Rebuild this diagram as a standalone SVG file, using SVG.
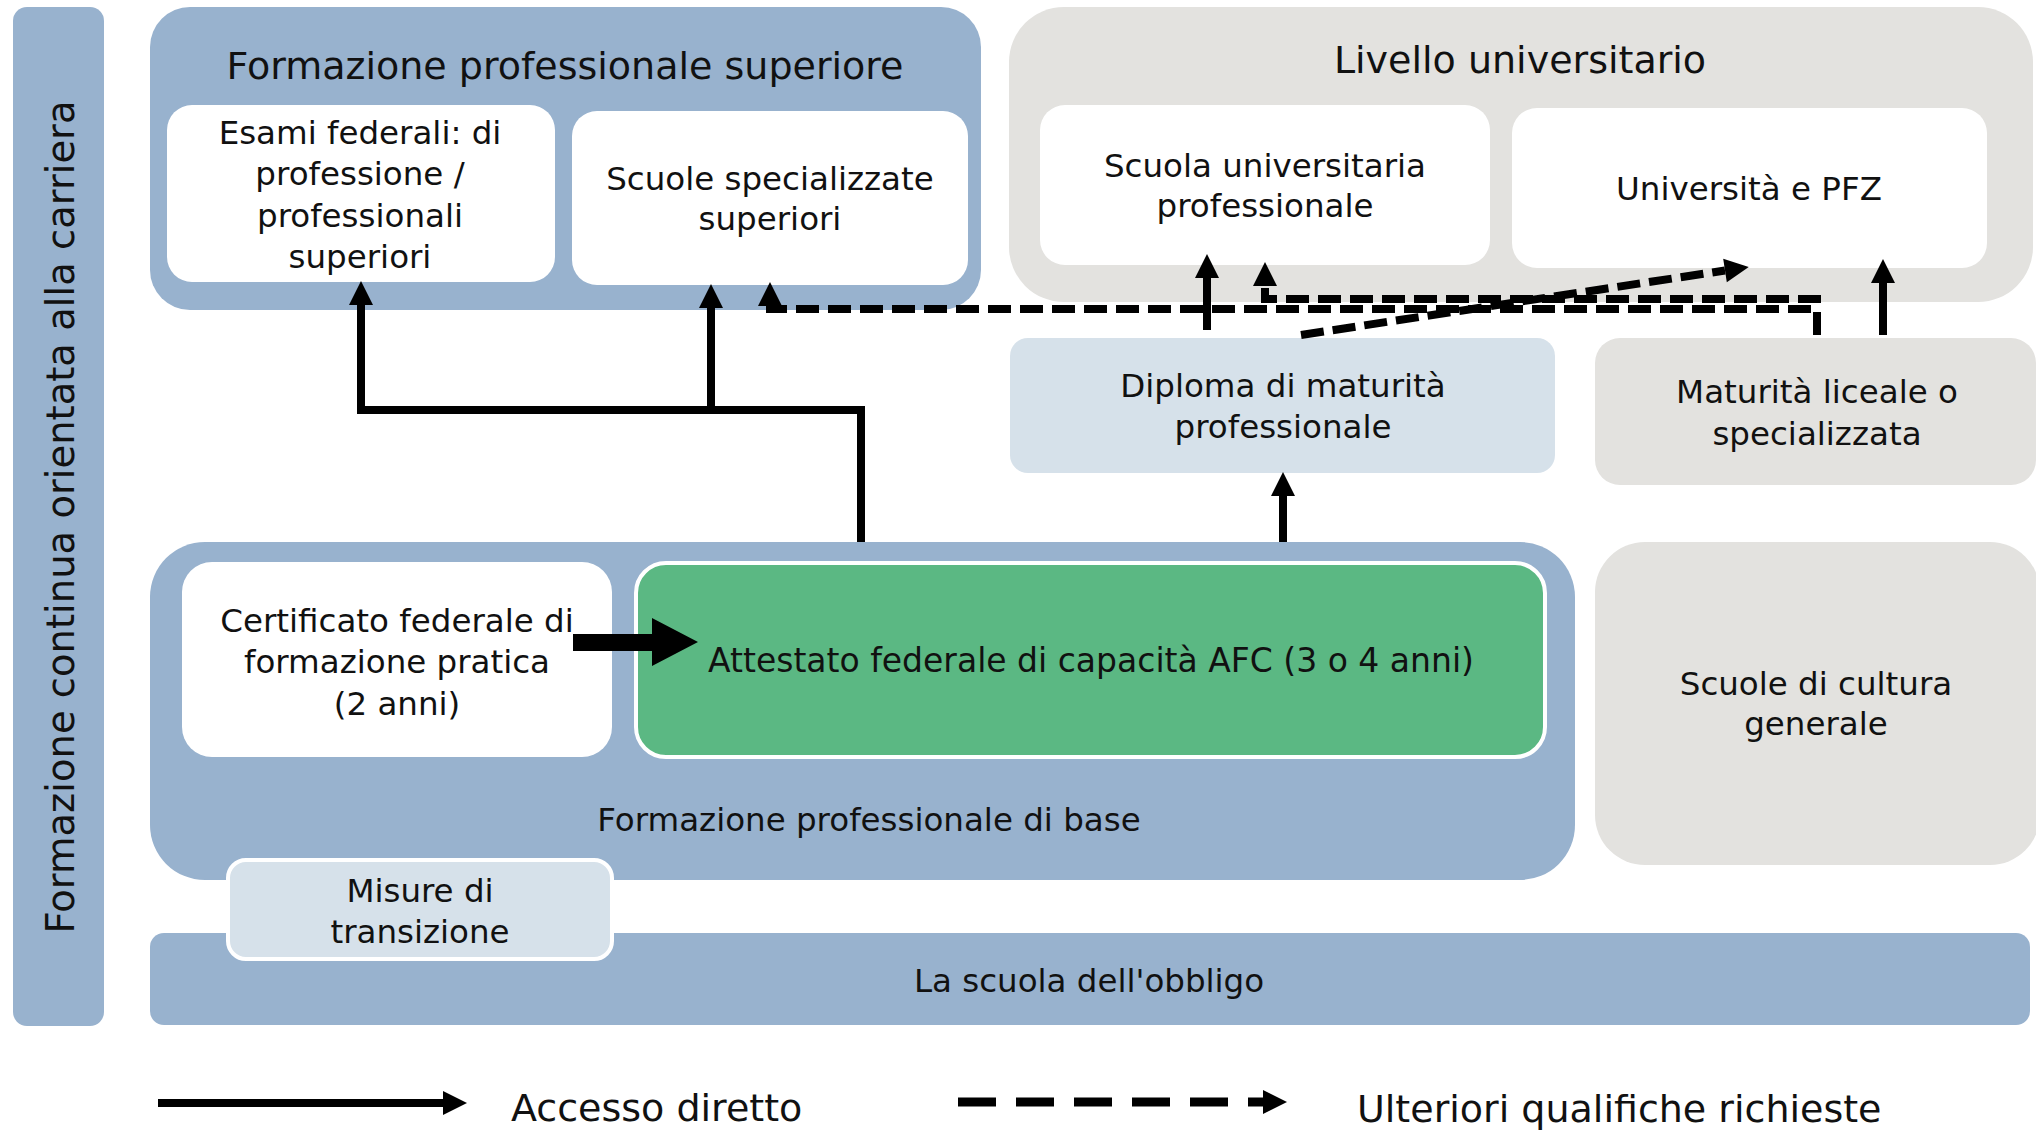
<svg xmlns="http://www.w3.org/2000/svg" width="2036" height="1131" viewBox="0 0 2036 1131">
<style>
  text { font-family: "DejaVu Sans", "Liberation Sans", sans-serif; fill: #111; }
  .h { font-size: 38px; text-anchor: middle; }
  .b { font-size: 32.5px; text-anchor: middle; }
  .lg { font-size: 38px; }
  .blue { fill: #98b2ce; }
  .grey { fill: #e3e2df; }
  .lblue { fill: #d6e1ea; }
  .white { fill: #ffffff; }
  .green { fill: #5bb883; stroke: #ffffff; stroke-width: 4; }
  .solid { fill: none; stroke: #000; stroke-width: 8; }
  .dash { fill: none; stroke: #000; stroke-width: 8; stroke-dasharray: 23 9; }
</style>
<defs>
  <marker id="ah" markerUnits="userSpaceOnUse" markerWidth="24" markerHeight="24" refX="0" refY="12" orient="auto" overflow="visible">
    <path d="M0,0 L24,12 L0,24 Z" fill="#000"/>
  </marker>
</defs>

<g id="carriera">
  <rect class="blue" x="13" y="7" width="91" height="1019" rx="14"/>
  <text class="h" style="font-size:38.5px" transform="translate(74,517) rotate(-90)">Formazione continua orientata alla carriera</text>
</g>

<g id="fps">
  <rect class="blue" x="150" y="7" width="831" height="303" rx="40"/>
  <text class="h" x="565" y="79">Formazione professionale superiore</text>
</g>
<g id="esami">
  <rect class="white" x="167" y="105" width="388" height="177" rx="25"/>
  <text class="b" x="360" y="144">Esami federali: di</text>
  <text class="b" x="360" y="185">professione /</text>
  <text class="b" x="360" y="227">professionali</text>
  <text class="b" x="360" y="268">superiori</text>
</g>
<g id="scuole-spec">
  <rect class="white" x="572" y="111" width="396" height="174" rx="25"/>
  <text class="b" x="770" y="190">Scuole specializzate</text>
  <text class="b" x="770" y="230">superiori</text>
</g>

<g id="livello-univ">
  <rect class="grey" x="1009" y="7" width="1024" height="295" rx="55"/>
  <text class="h" x="1520" y="73">Livello universitario</text>
</g>
<g id="scuola-univ">
  <rect class="white" x="1040" y="105" width="450" height="160" rx="25"/>
  <text class="b" x="1265" y="177">Scuola universitaria</text>
  <text class="b" x="1265" y="217">professionale</text>
</g>
<g id="univ-pfz">
  <rect class="white" x="1512" y="108" width="475" height="160" rx="25"/>
  <text class="b" x="1749" y="200">Università e PFZ</text>
</g>

<g id="diploma">
  <rect class="lblue" x="1010" y="338" width="545" height="135" rx="18"/>
  <text class="b" x="1283" y="397">Diploma di maturità</text>
  <text class="b" x="1283" y="438">professionale</text>
</g>
<g id="maturita">
  <rect class="grey" x="1595" y="338" width="441" height="147" rx="25"/>
  <text class="b" x="1817" y="403">Maturità liceale o</text>
  <text class="b" x="1817" y="445">specializzata</text>
</g>

<g id="fpb">
  <rect class="blue" x="150" y="542" width="1425" height="338" rx="55"/>
  <text class="b" x="869" y="831">Formazione professionale di base</text>
</g>
<g id="certificato">
  <rect class="white" x="182" y="562" width="430" height="195" rx="30"/>
  <text class="b" x="397" y="632">Certificato federale di</text>
  <text class="b" x="397" y="673">formazione pratica</text>
  <text class="b" x="397" y="715">(2 anni)</text>
</g>
<g id="afc">
  <rect class="green" x="636" y="563" width="909" height="194" rx="30"/>
  <text class="b" style="font-size:33px" x="1091" y="672">Attestato federale di capacità AFC (3 o 4 anni)</text>
</g>
<g id="cultura">
  <rect class="grey" x="1595" y="542" width="445" height="323" rx="50"/>
  <text class="b" x="1816" y="695">Scuole di cultura</text>
  <text class="b" x="1816" y="735">generale</text>
</g>

<g id="obbligo">
  <rect class="blue" x="150" y="933" width="1880" height="92" rx="14"/>
  <text class="b" x="1089" y="992">La scuola dell'obbligo</text>
</g>
<g id="misure">
  <rect class="lblue" x="228" y="860" width="384" height="99" rx="18" stroke="#fff" stroke-width="4"/>
  <text class="b" x="420" y="902">Misure di</text>
  <text class="b" x="420" y="943">transizione</text>
</g>

<g id="connectors">
  <path class="solid" d="M861,542 V410 H361 V305" marker-end="url(#ah)"/>
  <path class="solid" d="M711,410 V308" marker-end="url(#ah)"/>
  <path class="solid" d="M1283,542 V496" marker-end="url(#ah)"/>
  <path class="solid" d="M1207,330 V278" marker-end="url(#ah)"/>
  <path class="solid" d="M1883,335 V283" marker-end="url(#ah)"/>
  <path class="dash" d="M1817,335 V309 H770 V306" marker-end="url(#ah)"/>
  <path class="dash" d="M1817,335 V299 H1265 V286" marker-end="url(#ah)"/>
  <path class="dash" d="M1301,335 L1725,270.5" marker-end="url(#ah)"/>
  <path d="M573,634 H652 V618 L698,642 L652,666 V651 H573 Z" fill="#000"/>
</g>

<g id="legend">
  <path class="solid" d="M158,1103 H443" marker-end="url(#ah)"/>
  <text class="lg" x="511" y="1121">Accesso diretto</text>
  <path d="M958,1102 H1263" fill="none" stroke="#000" stroke-width="9" stroke-dasharray="38 20"/>
  <path d="M1263,1090 L1287,1102 L1263,1114 Z" fill="#000"/>
  <text class="lg" x="1357" y="1122">Ulteriori qualifiche richieste</text>
</g>
</svg>
